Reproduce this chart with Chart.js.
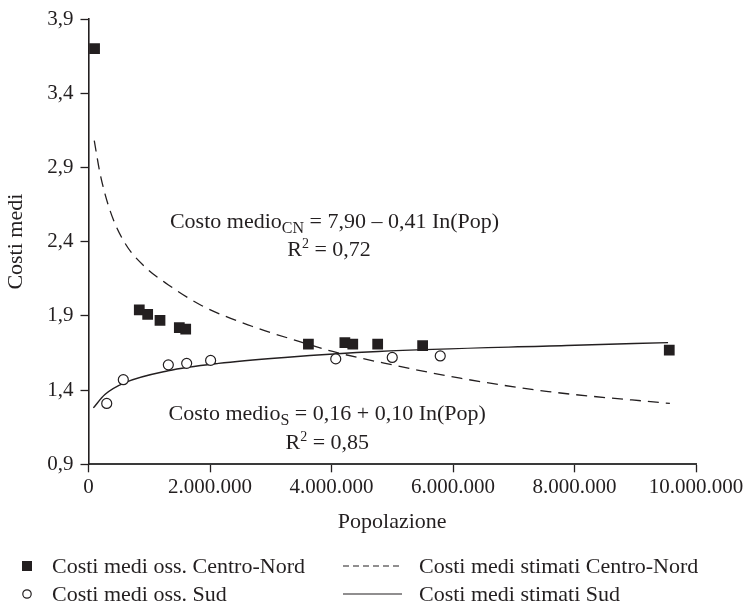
<!DOCTYPE html>
<html>
<head>
<meta charset="utf-8">
<script src="https://cdn.jsdelivr.net/npm/chart.js@4"></script>
<style>
  html, body { margin: 0; padding: 0; background: #ffffff; }
  #wrap { width: 745px; height: 604px; }
</style>
</head>
<body>
<div id="wrap"><canvas id="chart" width="745" height="604"></canvas></div>
<script>
// Observed average costs by population (Centro-Nord, Sud)
const popCN  = [100000, 836000, 974000, 1177000, 1495000, 1600000, 3620000, 4220000, 4350000, 4760000, 5500000, 9560000];
const costCN = [3.70, 1.94, 1.91, 1.87, 1.82, 1.81, 1.71, 1.72, 1.71, 1.71, 1.70, 1.67];

const popSud  = [300000, 573000, 1314000, 1616000, 2010000, 4070000, 5000000, 5790000];
const costSud = [1.31, 1.47, 1.57, 1.58, 1.60, 1.61, 1.62, 1.63];

// Estimated (log-fit) curves
const popFitCN  = [95000, 190000, 354000, 600000, 930000, 1310000, 1860000, 2690000, 3450000, 4020000, 5000000, 6120000, 7570000, 9570000];
const costFitCN = [3.08, 2.86, 2.61, 2.39, 2.23, 2.11, 1.97, 1.83, 1.73, 1.66, 1.57, 1.48, 1.39, 1.31];

const popFitSud  = [80000, 270000, 600000, 1310000, 2140000, 3230000, 4770000, 7870000, 9540000];
const costFitSud = [1.28, 1.37, 1.45, 1.53, 1.58, 1.62, 1.66, 1.70, 1.72];

// Axis ticks
const xTickValues = [0, 2000000, 4000000, 6000000, 8000000, 10000000];
const xTickLabels = ['0', '2.000.000', '4.000.000', '6.000.000', '8.000.000', '10.000.000'];
const yTickValues = [0.9, 1.4, 1.9, 2.4, 2.9, 3.4, 3.9];
const yTickLabels = ['0,9', '1,4', '1,9', '2,4', '2,9', '3,4', '3,9'];

// Series labels and regression notes
const seriesLabels = [
  'Costi medi oss. Centro-Nord',
  'Costi medi oss. Sud',
  'Costi medi stimati Centro-Nord',
  'Costi medi stimati Sud'
];
const eqCN  = [['Costo medio', 'main'], ['CN', 'sub'], [' = 7,90 \u2013 0,41 In(Pop)', 'main']];
const r2CN  = [['R', 'main'], ['2', 'sup'], [' = 0,72', 'main']];
const eqSud = [['Costo medio', 'main'], ['S', 'sub'], [' = 0,16 + 0,10 In(Pop)', 'main']];
const r2Sud = [['R', 'main'], ['2', 'sup'], [' = 0,85', 'main']];

const INK = '#231f20';
const SERIF = '"Liberation Serif", "Times New Roman", serif';

const toPoints = (xs, ys) => xs.map((x, i) => ({ x: x, y: ys[i] }));

// Equations written next to the curves, anchored in data units
const notesPlugin = {
  id: 'notes',
  afterDatasetsDraw(chart) {
    const ctx = chart.ctx;
    const sx = chart.scales.x, sy = chart.scales.y;
    const notes = [
      { parts: eqCN,  x: 4050000, y: 2.49 },
      { parts: r2CN,  x: 3960000, y: 2.30 },
      { parts: eqSud, x: 3930000, y: 1.20 },
      { parts: r2Sud, x: 3930000, y: 1.00 }
    ];
    const fonts = { main: '22px ' + SERIF, sub: '16px ' + SERIF, sup: '14px ' + SERIF };
    const shift = { main: 0, sub: 5, sup: -8 };
    ctx.save();
    ctx.fillStyle = INK;
    ctx.textBaseline = 'alphabetic';
    ctx.textAlign = 'left';
    notes.forEach(n => {
      let w = 0;
      n.parts.forEach(p => { ctx.font = fonts[p[1]]; w += ctx.measureText(p[0]).width; });
      let x = sx.getPixelForValue(n.x) - w / 2;
      const y = sy.getPixelForValue(n.y);
      n.parts.forEach(p => {
        ctx.font = fonts[p[1]];
        ctx.fillText(p[0], x, y + shift[p[1]]);
        x += ctx.measureText(p[0]).width;
      });
    });
    ctx.restore();
  }
};

// Two-column legend below the x axis title
const legendPlugin = {
  id: 'twoColLegend',
  afterDraw(chart) {
    const ctx = chart.ctx;
    const ds = chart.data.datasets;
    const rows = [573, 601];
    ctx.save();
    ctx.font = '22px ' + SERIF;
    ctx.fillStyle = INK;
    ctx.textBaseline = 'alphabetic';
    ctx.textAlign = 'left';
    // column 1: markers
    [0, 1].forEach((i, r) => {
      const cy = rows[r] - 7;
      const d = ds[i];
      if (d.pointStyle === 'rect') {
        ctx.fillStyle = INK;
        ctx.fillRect(22, cy - 5, 10, 10);
      } else {
        ctx.beginPath();
        ctx.arc(27, cy, 4.2, 0, Math.PI * 2);
        ctx.fillStyle = '#ffffff';
        ctx.fill();
        ctx.lineWidth = 1.2;
        ctx.strokeStyle = INK;
        ctx.stroke();
      }
      ctx.fillStyle = INK;
      ctx.fillText(d.label, 52, rows[r]);
    });
    // column 2: lines
    [2, 3].forEach((i, r) => {
      const cy = rows[r] - 7;
      const d = ds[i];
      ctx.beginPath();
      ctx.setLineDash(d.borderDash && d.borderDash.length ? [6, 4] : []);
      ctx.lineWidth = 1.2;
      ctx.strokeStyle = INK;
      ctx.moveTo(343, cy);
      ctx.lineTo(402, cy);
      ctx.stroke();
      ctx.setLineDash([]);
      ctx.fillStyle = INK;
      ctx.fillText(d.label, 419, rows[r]);
    });
    ctx.restore();
  }
};

new Chart(document.getElementById('chart'), {
  type: 'scatter',
  data: {
    datasets: [
      {
        label: seriesLabels[0],
        data: toPoints(popCN, costCN),
        pointStyle: 'rect',
        pointRadius: 7.6,
        pointHoverRadius: 7.6,
        backgroundColor: INK,
        borderColor: INK,
        borderWidth: 0
      },
      {
        label: seriesLabels[1],
        data: toPoints(popSud, costSud),
        pointStyle: 'circle',
        pointRadius: 5,
        pointHoverRadius: 5,
        backgroundColor: '#ffffff',
        borderColor: INK,
        borderWidth: 1.2
      },
      {
        label: seriesLabels[2],
        data: toPoints(popFitCN, costFitCN),
        showLine: true,
        pointRadius: 0,
        borderColor: INK,
        borderWidth: 1.3,
        borderDash: [11, 7],
        cubicInterpolationMode: 'monotone',
        fill: false
      },
      {
        label: seriesLabels[3],
        data: toPoints(popFitSud, costFitSud),
        showLine: true,
        pointRadius: 0,
        borderColor: INK,
        borderWidth: 1.4,
        borderDash: [],
        cubicInterpolationMode: 'monotone',
        fill: false
      }
    ]
  },
  options: {
    responsive: false,
    animation: false,
    devicePixelRatio: 1,
    layout: { padding: { left: 0, right: 49, top: 19, bottom: 68.7 } },
    plugins: {
      legend: { display: false },
      tooltip: { enabled: false }
    },
    scales: {
      x: {
        type: 'linear',
        min: 0,
        max: 10000000,
        afterBuildTicks(s) { s.ticks = xTickValues.map(v => ({ value: v })); },
        afterFit(s) { s.height = 71; s.paddingLeft = 0; s.paddingRight = 0; },
        ticks: {
          callback: (v, i) => xTickLabels[i],
          color: INK,
          font: { family: SERIF, size: 21 },
          padding: 3,
          maxRotation: 0,
          autoSkip: false
        },
        grid: { drawOnChartArea: false, drawTicks: true, tickLength: 8, tickColor: INK, tickWidth: 1.3 },
        border: { display: true, color: '#3a3a3a', width: 2 },
        title: {
          display: true,
          text: 'Popolazione',
          color: INK,
          font: { family: SERIF, size: 22 },
          padding: { top: 0, bottom: 0 }
        }
      },
      y: {
        type: 'linear',
        min: 0.9,
        max: 3.9,
        afterBuildTicks(s) { s.ticks = yTickValues.map(v => ({ value: v })); },
        afterFit(s) { s.width = 88.5; s.paddingTop = 0; s.paddingBottom = 0; },
        ticks: {
          callback: (v, i) => yTickLabels[i],
          color: INK,
          font: { family: SERIF, size: 21 },
          padding: 7,
          autoSkip: false
        },
        grid: { drawOnChartArea: false, drawTicks: true, tickLength: 8, tickColor: INK, tickWidth: 1.3 },
        border: { display: true, color: INK, width: 1.6 },
        title: {
          display: true,
          text: 'Costi medi',
          color: INK,
          font: { family: SERIF, size: 22 },
          padding: { top: 3, bottom: 0 }
        }
      }
    }
  },
  plugins: [notesPlugin, legendPlugin]
});
</script>
</body>
</html>
